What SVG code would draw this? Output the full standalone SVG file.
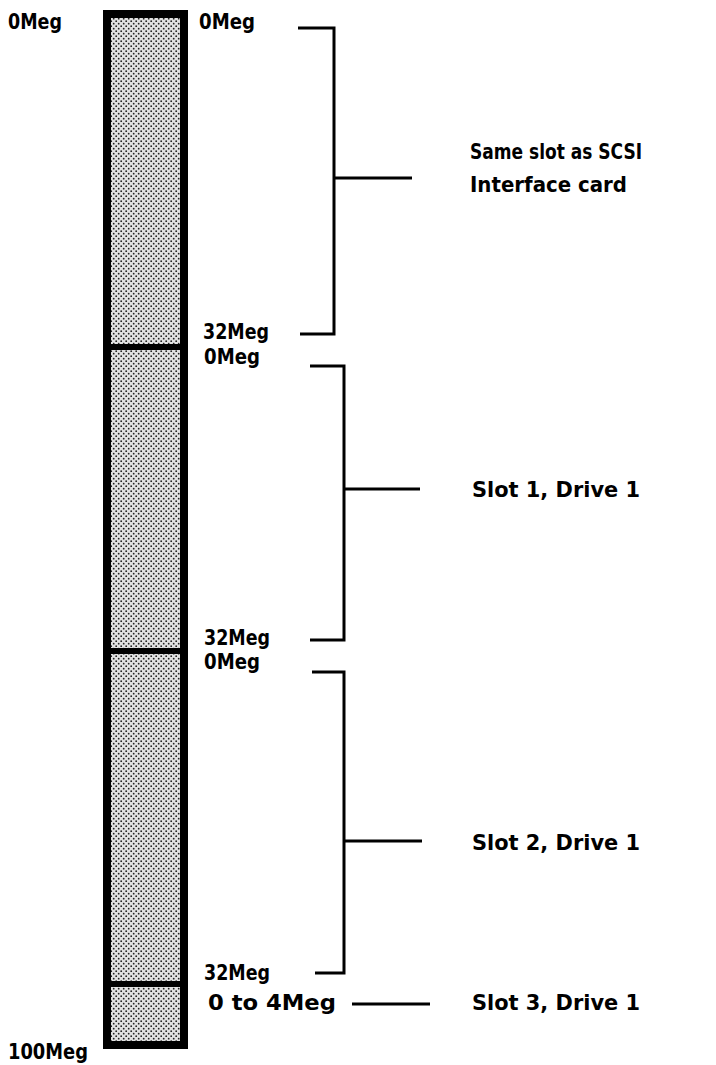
<svg xmlns="http://www.w3.org/2000/svg" width="716" height="1065" viewBox="0 0 716 1065">
<defs>
<pattern id="dots" width="5" height="5" patternUnits="userSpaceOnUse">
<rect width="5" height="5" fill="#e2e2e2"/>
<circle cx="1.2" cy="1.2" r="0.9" fill="#222"/>
<circle cx="3.7" cy="3.7" r="0.9" fill="#222"/>
</pattern>
</defs>
<style>
text{font-family:"DejaVu Sans","Liberation Sans",sans-serif;font-weight:bold;font-size:21px;fill:#000}
.ln{stroke:#000;stroke-width:3;fill:none}
.bar{fill:url(#dots);stroke:#000;stroke-width:8}
.div{stroke:#000;stroke-width:6}
</style>
<g id="bar">
<rect class="bar" x="107" y="14" width="77" height="1031"/>
<line class="div" x1="107" y1="347" x2="184" y2="347"/>
<line class="div" x1="107" y1="651" x2="184" y2="651"/>
<line class="div" x1="107" y1="984" x2="184" y2="984"/>
</g>
<g id="scale-labels">
<text x="8" y="29" textLength="54" lengthAdjust="spacingAndGlyphs">0Meg</text>
<text x="8" y="1059" textLength="80" lengthAdjust="spacingAndGlyphs">100Meg</text>
</g>
<g id="segment1">
<text x="199" y="29" textLength="56" lengthAdjust="spacingAndGlyphs">0Meg</text>
<text x="203" y="339" textLength="66" lengthAdjust="spacingAndGlyphs">32Meg</text>
<text x="470" y="159" textLength="172" lengthAdjust="spacingAndGlyphs">Same slot as SCSI</text>
<text x="470" y="192" textLength="157" lengthAdjust="spacingAndGlyphs">Interface card</text>
</g>
<g id="segment2">
<text x="204" y="364" textLength="56" lengthAdjust="spacingAndGlyphs">0Meg</text>
<text x="204" y="645" textLength="66" lengthAdjust="spacingAndGlyphs">32Meg</text>
<text x="472" y="497" textLength="168" lengthAdjust="spacingAndGlyphs">Slot 1, Drive 1</text>
</g>
<g id="segment3">
<text x="204" y="669" textLength="56" lengthAdjust="spacingAndGlyphs">0Meg</text>
<text x="204" y="980" textLength="66" lengthAdjust="spacingAndGlyphs">32Meg</text>
<text x="472" y="850" textLength="168" lengthAdjust="spacingAndGlyphs">Slot 2, Drive 1</text>
</g>
<g id="segment4">
<text x="208" y="1010" textLength="128" lengthAdjust="spacingAndGlyphs">0 to 4Meg</text>
<text x="472" y="1010" textLength="168" lengthAdjust="spacingAndGlyphs">Slot 3, Drive 1</text>
</g>
<g id="connectors">
<polyline class="ln" points="298,28 334,28 334,334 300,334"/>
<line class="ln" x1="334" y1="178" x2="412" y2="178"/>
<polyline class="ln" points="310,366 344,366 344,640 310,640"/>
<line class="ln" x1="344" y1="489" x2="420" y2="489"/>
<polyline class="ln" points="312,672 344,672 344,973 315,973"/>
<line class="ln" x1="344" y1="841" x2="422" y2="841"/>
<line class="ln" x1="352" y1="1004" x2="430" y2="1004"/>
</g>
</svg>
